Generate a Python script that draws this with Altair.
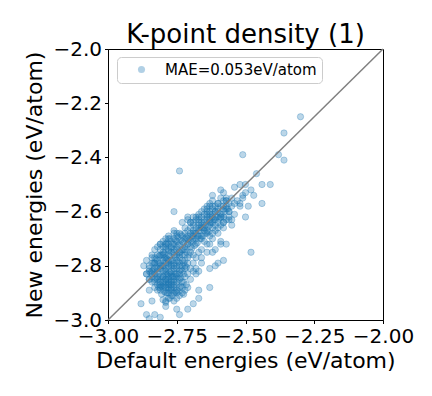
import altair as alt
import pandas as pd

# Scatter values (eV/atom)
xs = [
    -2.30, -2.36, -2.38, -2.36, -2.51, -2.74, -2.46, -2.44, -2.41, -2.54,
    -2.52, -2.50, -2.59, -2.48, -2.51, -2.47, -2.62, -2.58, -2.57, -2.44,
    -2.49, -2.52, -2.54, -2.57, -2.57, -2.76, -2.50, -2.48, -2.63, -2.64,
    -2.61, -2.58, -2.56, -2.71, -2.67, -2.64, -2.62, -2.59, -2.56, -2.55,
    -2.58, -2.55, -2.73, -2.70, -2.67, -2.76, -2.75, -2.81, -2.79, -2.78,
    -2.75, -2.59, -2.57, -2.59, -2.63, -2.61, -2.64, -2.62, -2.60, -2.58,
    -2.61, -2.63, -2.86, -2.83, -2.84, -2.85, -2.85, -2.88, -2.84, -2.86,
    -2.83, -2.81, -2.85, -2.79, -2.79, -2.75, -2.74, -2.71, -2.69, -2.67,
    -2.75, -2.73, -2.71, -2.67, -2.63, -2.78, -2.81, -2.68, -2.69, -2.67,
    -2.66,
    -2.60, -2.58, -2.62, -2.56, -2.59, -2.63, -2.61, -2.57, -2.65, -2.60,
    -2.63, -2.67, -2.58, -2.62, -2.65, -2.69, -2.60, -2.64, -2.67, -2.71,
    -2.62, -2.66, -2.69, -2.73, -2.64, -2.68, -2.71, -2.75, -2.70, -2.66,
    -2.72, -2.74, -2.77, -2.69, -2.73, -2.76, -2.79, -2.71, -2.75, -2.78,
    -2.74, -2.81, -2.77, -2.80, -2.72, -2.83, -2.79, -2.76, -2.82, -2.78,
    -2.84, -2.80, -2.77, -2.83, -2.79, -2.81, -2.78, -2.76, -2.80, -2.77,
    -2.79, -2.75, -2.78, -2.76,
    -2.79, -2.77, -2.75, -2.73, -2.71, -2.69, -2.67, -2.65, -2.63, -2.61,
    -2.78, -2.76, -2.74, -2.72, -2.70, -2.68, -2.66, -2.64,
    -2.80, -2.78, -2.76, -2.75, -2.77, -2.79, -2.76, -2.78, -2.77, -2.79,
    -2.76, -2.78,
    -2.82, -2.81, -2.80, -2.82, -2.81, -2.79, -2.80, -2.82, -2.81, -2.77,
    -2.74, -2.73, -2.72, -2.74, -2.73, -2.75, -2.74, -2.73, -2.75, -2.74,
    -2.70, -2.71, -2.70, -2.72, -2.70, -2.69, -2.68, -2.67, -2.66, -2.68,
    -2.85, -2.84, -2.83, -2.86, -2.85, -2.83, -2.84, -2.82, -2.80, -2.81,
    -2.68, -2.66, -2.64, -2.62, -2.63, -2.65, -2.61, -2.59, -2.58, -2.60,
    -2.70, -2.72, -2.74, -2.76, -2.78, -2.68, -2.66, -2.64, -2.62, -2.59,
    -2.57, -2.55, -2.56, -2.54, -2.58, -2.61, -2.63, -2.66, -2.69, -2.72,
    -2.79, -2.81, -2.83, -2.80, -2.78, -2.76, -2.84, -2.86, -2.85, -2.87,
    -2.71, -2.69, -2.67, -2.65, -2.63,
    -2.53, -2.51, -2.52, -2.55, -2.50,
    -2.775, -2.755, -2.785, -2.765, -2.745, -2.790, -2.770, -2.750, -2.780, -2.760,
    -2.795, -2.740, -2.775, -2.755, -2.785, -2.765, -2.745, -2.790, -2.770, -2.750,
    -2.780, -2.760, -2.795, -2.740, -2.775, -2.755, -2.785, -2.765, -2.745, -2.790,
    -2.770, -2.750, -2.780, -2.760, -2.795, -2.770, -2.755, -2.785, -2.765, -2.775,
    -2.815, -2.805, -2.795, -2.805, -2.815, -2.825, -2.835, -2.825, -2.835, -2.845,
    -2.815, -2.825, -2.805, -2.815, -2.805,
    -2.735, -2.725, -2.715, -2.705, -2.695, -2.685, -2.675, -2.665, -2.655, -2.645,
    -2.635, -2.625, -2.615, -2.605, -2.595, -2.585, -2.575, -2.565,
    -2.745, -2.735, -2.725, -2.715, -2.705, -2.695, -2.685, -2.675, -2.665, -2.655,
    -2.645, -2.635,
    -2.725, -2.715, -2.735, -2.725, -2.735, -2.725, -2.715, -2.735, -2.745, -2.725,
    -2.795, -2.805, -2.815, -2.800, -2.790,
    -2.80, -2.79, -2.78, -2.77, -2.76, -2.75, -2.74, -2.78, -2.77, -2.76,
    -2.80, -2.79, -2.78, -2.77, -2.76, -2.75, -2.74, -2.78, -2.77, -2.76,
    -2.81, -2.82, -2.83, -2.82, -2.81, -2.79, -2.78, -2.77, -2.75, -2.74,
    -2.73, -2.72, -2.71, -2.70, -2.69, -2.73, -2.72, -2.71, -2.73, -2.72,
    -2.79, -2.80, -2.82, -2.81, -2.83, -2.84, -2.85, -2.84, -2.83, -2.82,
    -2.68, -2.67, -2.66, -2.65, -2.64, -2.63, -2.62, -2.61, -2.60, -2.59,
    -2.70, -2.69, -2.68, -2.66, -2.64, -2.62, -2.60, -2.58, -2.56, -2.57,
    -2.72, -2.71, -2.69, -2.67, -2.65, -2.63, -2.61, -2.59, -2.60, -2.62,
]
ys = [
    -2.25, -2.31, -2.39, -2.41, -2.39, -2.45, -2.46, -2.50, -2.50, -2.51,
    -2.50, -2.50, -2.52, -2.52, -2.54, -2.54, -2.54, -2.53, -2.55, -2.57,
    -2.58, -2.57, -2.57, -2.56, -2.58, -2.60, -2.62, -2.75, -2.58, -2.59,
    -2.60, -2.59, -2.60, -2.62, -2.62, -2.61, -2.62, -2.62, -2.63, -2.63,
    -2.64, -2.65, -2.64, -2.64, -2.64, -2.67, -2.68, -2.72, -2.72, -2.70,
    -2.69, -2.71, -2.72, -2.72, -2.72, -2.74, -2.75, -2.75, -2.79, -2.78,
    -2.80, -2.81, -2.83, -2.79, -2.82, -2.85, -2.89, -2.94, -2.93, -2.98,
    -2.98, -2.99, -2.995, -2.93, -2.95, -2.96, -2.98, -2.96, -2.94, -2.92,
    -2.92, -2.90, -2.88, -2.89, -2.88, -2.90, -2.88, -2.83, -2.82, -2.82,
    -2.79,
    -2.57, -2.58, -2.59, -2.60, -2.61, -2.61, -2.62, -2.63, -2.63, -2.64,
    -2.65, -2.65, -2.66, -2.66, -2.67, -2.67, -2.68, -2.68, -2.69, -2.69,
    -2.70, -2.70, -2.71, -2.71, -2.72, -2.72, -2.72, -2.73, -2.73, -2.74,
    -2.74, -2.75, -2.75, -2.76, -2.76, -2.76, -2.77, -2.77, -2.78, -2.78,
    -2.79, -2.79, -2.80, -2.80, -2.80, -2.81, -2.81, -2.82, -2.82, -2.83,
    -2.83, -2.84, -2.84, -2.85, -2.85, -2.86, -2.87, -2.86, -2.88, -2.89,
    -2.90, -2.90, -2.92, -2.93,
    -2.74, -2.73, -2.71, -2.69, -2.67, -2.65, -2.63, -2.61, -2.60, -2.58,
    -2.76, -2.74, -2.72, -2.70, -2.68, -2.66, -2.64, -2.62,
    -2.78, -2.79, -2.80, -2.81, -2.82, -2.83, -2.84, -2.85, -2.86, -2.87,
    -2.88, -2.88,
    -2.78, -2.81, -2.82, -2.84, -2.84, -2.86, -2.86, -2.87, -2.89, -2.91,
    -2.77, -2.78, -2.78, -2.80, -2.82, -2.83, -2.85, -2.86, -2.87, -2.88,
    -2.75, -2.79, -2.81, -2.84, -2.85, -2.79, -2.77, -2.75, -2.77, -2.81,
    -2.80, -2.86, -2.88, -2.83, -2.85, -2.79, -2.77, -2.76, -2.75, -2.74,
    -2.70, -2.69, -2.67, -2.64, -2.69, -2.71, -2.67, -2.65, -2.62, -2.60,
    -2.64, -2.66, -2.68, -2.70, -2.72, -2.62, -2.60, -2.58, -2.56, -2.55,
    -2.56, -2.58, -2.62, -2.61, -2.64, -2.65, -2.63, -2.66, -2.69, -2.76,
    -2.70, -2.72, -2.74, -2.73, -2.69, -2.68, -2.76, -2.78, -2.82, -2.80,
    -2.63, -2.62, -2.61, -2.59, -2.57,
    -2.56, -2.55, -2.58, -2.55, -2.53,
    -2.700, -2.705, -2.715, -2.720, -2.725, -2.730, -2.735, -2.740, -2.745, -2.750,
    -2.755, -2.760, -2.765, -2.770, -2.775, -2.780, -2.785, -2.790, -2.795, -2.800,
    -2.805, -2.810, -2.815, -2.820, -2.825, -2.830, -2.835, -2.840, -2.845, -2.850,
    -2.855, -2.860, -2.865, -2.870, -2.875, -2.885, -2.895, -2.900, -2.910, -2.920,
    -2.790, -2.800, -2.770, -2.760, -2.765, -2.775, -2.790, -2.805, -2.815, -2.825,
    -2.830, -2.845, -2.850, -2.860, -2.875,
    -2.705, -2.715, -2.695, -2.705, -2.690, -2.680, -2.690, -2.670, -2.660, -2.650,
    -2.655, -2.640, -2.630, -2.620, -2.625, -2.610, -2.600, -2.590,
    -2.695, -2.685, -2.740, -2.750, -2.760, -2.735, -2.725, -2.715, -2.700, -2.690,
    -2.680, -2.675,
    -2.790, -2.805, -2.815, -2.830, -2.845, -2.860, -2.870, -2.875, -2.895, -2.905,
    -2.895, -2.905, -2.880, -2.925, -2.935,
    -2.76, -2.78, -2.80, -2.78, -2.79, -2.76, -2.75, -2.74, -2.71, -2.72,
    -2.84, -2.82, -2.84, -2.83, -2.85, -2.84, -2.83, -2.86, -2.88, -2.90,
    -2.80, -2.81, -2.83, -2.85, -2.87, -2.88, -2.89, -2.87, -2.89, -2.91,
    -2.74, -2.73, -2.72, -2.71, -2.70, -2.80, -2.81, -2.83, -2.88, -2.89,
    -2.72, -2.71, -2.73, -2.76, -2.77, -2.79, -2.81, -2.84, -2.86, -2.89,
    -2.68, -2.67, -2.65, -2.64, -2.63, -2.62, -2.61, -2.60, -2.59, -2.58,
    -2.66, -2.64, -2.63, -2.62, -2.60, -2.58, -2.57, -2.56, -2.57, -2.59,
    -2.68, -2.70, -2.68, -2.66, -2.66, -2.64, -2.63, -2.62, -2.66, -2.68,
]
legend_label = "MAE=0.053eV/atom"
diag_x = [-3.0, -2.0]
diag_y = [-3.0, -2.0]
x_ticks = [-3.0, -2.75, -2.5, -2.25, -2.0]
y_ticks = [-3.0, -2.8, -2.6, -2.4, -2.2, -2.0]

df = pd.DataFrame({"x": xs, "y": ys})
df["series"] = legend_label
diag = pd.DataFrame({"x": diag_x, "y": diag_y})

xscale = alt.Scale(domain=[-3.0, -2.0], nice=False, zero=False)
yscale = alt.Scale(domain=[-3.0, -2.0], nice=False, zero=False)

points = alt.Chart(df).mark_point(
    filled=True, size=40, fillOpacity=0.3, strokeOpacity=0.3, strokeWidth=1,
    stroke="#1f77b4", shape="circle", clip=True,
).encode(
    x=alt.X("x:Q", scale=xscale,
            axis=alt.Axis(values=x_ticks, format=".2f", title="Default energies (eV/atom)")),
    y=alt.Y("y:Q", scale=yscale,
            axis=alt.Axis(values=y_ticks, format=".1f", title="New energies (eV/atom)")),
    color=alt.Color("series:N", scale=alt.Scale(range=["#1f77b4"]),
                    legend=alt.Legend(title=None, orient="none", legendX=9, legendY=8)),
)

line = alt.Chart(diag).mark_line(color="#808080", strokeWidth=1.5).encode(
    x=alt.X("x:Q", scale=xscale),
    y=alt.Y("y:Q", scale=yscale),
)

chart = alt.layer(points, line).properties(
    width=275,
    height=271,
    title=alt.TitleParams("K-point density (1)", anchor="middle", frame="group", dy=14),
    autosize=alt.AutoSizeParams(type="none"),
    padding={"left": 100, "top": 41, "right": 41, "bottom": 68},
).configure_title(
    fontSize=26, fontWeight="normal", font="DejaVu Sans", color="black", offset=5,
).configure_view(
    stroke="black", strokeWidth=1
).configure_axis(
    grid=False, domainColor="black", tickColor="black", tickSize=3.5,
    labelFontSize=20, titleFontSize=22, titleFontWeight="normal",
    labelFont="DejaVu Sans", titleFont="DejaVu Sans",
    labelColor="black", titleColor="black", labelPadding=3,
).configure_axisX(
    titlePadding=4, labelFlush=False, labelOverlap=False,
).configure_axisY(
    titlePadding=6, labelFlush=False, labelOverlap=False,
).configure_legend(
    labelFontSize=15, labelFont="DejaVu Sans", labelColor="black",
    strokeColor="#cccccc", cornerRadius=4, padding=5, fillColor="white",
    symbolType="circle", symbolSize=50, symbolOpacity=0.35, symbolStrokeWidth=0,
    symbolOffset=12, labelOffset=16,
)

chart.save("out.html", embed_options={"renderer": "svg", "actions": False})
